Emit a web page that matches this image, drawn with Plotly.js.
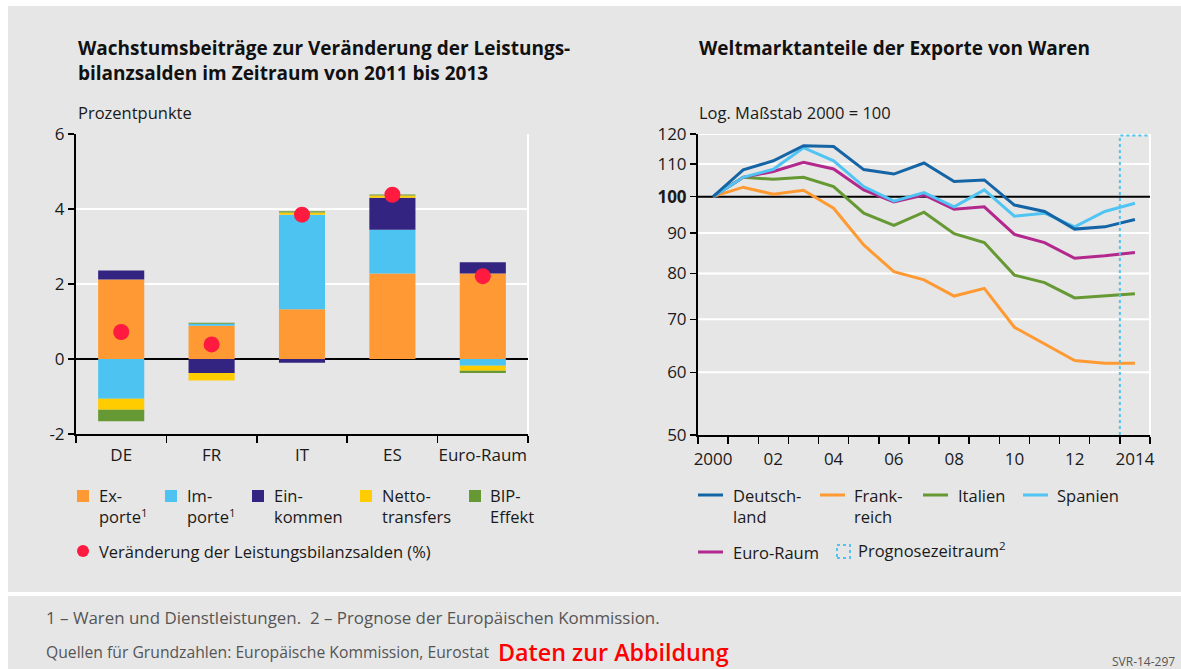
<!DOCTYPE html>
<html>
<head>
<meta charset="utf-8">
<script src="https://cdn.plot.ly/plotly-3.0.1.min.js"></script>
<style>
html,body{margin:0;padding:0;background:#fff;}
#chart{width:1181px;height:669px;}
</style>
</head>
<body>
<div id="chart"></div>
<script>
// ---- Left chart data (Prozentpunkte) ----
const categories = ['DE', 'FR', 'IT', 'ES', 'Euro-Raum'];
const exporte   = [2.12, 0.885, 1.33, 2.28, 2.28];
const importe   = [-1.06, 0.055, 2.52, 1.17, -0.18];
const einkommen = [0.24, -0.37, -0.10, 0.85, 0.30];
const netto     = [-0.29, -0.20, 0.06, 0.06, -0.13];
const bipEffekt = [-0.31, 0.027, 0.03, 0.03, -0.06];
const saldo     = [0.72, 0.39, 3.85, 4.38, 2.21];
const leftTicks = [-2, 0, 2, 4, 6];
const leftTickText = ['-2', '0', '2', '4', '6'];

// ---- Right chart data (Log. Maßstab 2000 = 100) ----
const years = [2000, 2001, 2002, 2003, 2004, 2005, 2006, 2007, 2008, 2009, 2010, 2011, 2012, 2013, 2014];
const deutschland = [100, 108.1, 111.0, 116.0, 115.7, 108.2, 106.8, 110.3, 104.5, 105.0, 97.6, 95.8, 91.0, 91.6, 93.6];
const frankreich  = [100, 102.8, 100.7, 101.9, 96.7, 86.9, 80.4, 78.5, 74.9, 76.6, 68.4, 65.1, 62.1, 61.6, 61.6];
const italien     = [100, 105.8, 105.2, 105.8, 103.0, 95.3, 92.0, 95.6, 89.8, 87.5, 79.6, 77.9, 74.5, 75.0, 75.4];
const spanien     = [100, 105.8, 108.3, 115.3, 111.0, 103.0, 98.7, 101.2, 97.1, 102.0, 94.5, 95.3, 91.6, 95.8, 98.1];
const euroRaum    = [100, 105.8, 107.6, 110.5, 108.4, 102.0, 98.5, 100.5, 96.4, 97.1, 89.6, 87.5, 83.6, 84.2, 85.0];
const rightTicks = [50, 60, 70, 80, 90, 100, 110, 120];
const rightTickText = ['50', '60', '70', '80', '90', '<b>100</b>', '110', '120'];
const baseValue = 100;
const yearLabelVals = [2000, 2002, 2004, 2006, 2008, 2010, 2012, 2014];
const yearLabels = ['2000', '02', '04', '06', '08', '10', '12', '2014'];
const prognoseStart = 2013.5;

// ---- colours ----
const C = {
  exp: '#ff9933', imp: '#4cc3f0', ein: '#332482', net: '#ffcc00', bip: '#669933', dot: '#ff1a40',
  de: '#1565a6', fr: '#ff9a33', it: '#669933', es: '#50c4f2', eu: '#b3288d',
  bg: '#e6e6e6'
};

const W = 1181, H = 669;
const px = x => x / W;
const py = y => 1 - y / H;
const FONT = 'Open Sans, Liberation Sans, Arial, sans-serif';
const tickFont = {family: FONT, size: 17, color: '#1a1a1a'};

function bar(name, vals, color) {
  return {type: 'bar', name: name, x: categories, y: vals, width: 0.51,
    marker: {color: color, line: {width: 0}}, xaxis: 'x', yaxis: 'y', showlegend: false};
}
function line(name, vals, color) {
  return {type: 'scatter', mode: 'lines', name: name, x: years, y: vals,
    line: {color: color, width: 3}, xaxis: 'x2', yaxis: 'y2', showlegend: false};
}

const data = [
  bar('Exporte', exporte, C.exp),
  bar('Importe', importe, C.imp),
  bar('Einkommen', einkommen, C.ein),
  bar('Nettotransfers', netto, C.net),
  bar('BIP-Effekt', bipEffekt, C.bip),
  {type: 'scatter', mode: 'markers', name: 'Veränderung der Leistungsbilanzsalden (%)', x: categories, y: saldo,
    marker: {color: C.dot, size: 16}, xaxis: 'x', yaxis: 'y', showlegend: false},
  line('Frankreich', frankreich, C.fr),
  line('Italien', italien, C.it),
  line('Euro-Raum', euroRaum, C.eu),
  line('Spanien', spanien, C.es),
  line('Deutschland', deutschland, C.de)
];

const minorYearTicks = years.map(y => y - 0.5).concat([years[years.length - 1] + 0.5]);

const shapes = [
  // backgrounds
  {type: 'rect', xref: 'paper', yref: 'paper', x0: px(8), x1: 1, y0: py(592), y1: py(6), fillcolor: C.bg, line: {width: 0}, layer: 'below'},
  {type: 'rect', xref: 'paper', yref: 'paper', x0: px(8), x1: 1, y0: 0, y1: py(596), fillcolor: C.bg, line: {width: 0}, layer: 'below'},
  // right white borders of plots
  {type: 'line', xref: 'x domain', yref: 'y domain', x0: 1, x1: 1, y0: 0, y1: 1, line: {color: '#ffffff', width: 2}, layer: 'below'},
  {type: 'line', xref: 'x2 domain', yref: 'y2 domain', x0: 1, x1: 1, y0: 0, y1: 1, line: {color: '#ffffff', width: 2}, layer: 'below'}
];
// right chart gridlines (white), with the base line (100) in black
rightTicks.forEach(t => {
  if (t === rightTicks[0]) return;
  shapes.push({type: 'line', xref: 'x2 domain', yref: 'y2', x0: 0, x1: 1, y0: t, y1: t,
    line: {color: t === baseValue ? '#000000' : '#ffffff', width: 2}, layer: 'below'});
});
// Prognose period
shapes.push({type: 'path', xref: 'x2', yref: 'y2 domain',
  path: 'M ' + prognoseStart + ' 0 L ' + prognoseStart + ' 0.995 L 2014.45 0.995',
  line: {color: C.es, width: 2, dash: 'dot'}});

const annotations = [];
function txt(text, x, y, opts) {
  annotations.push(Object.assign({text: text, xref: 'paper', yref: 'paper', x: px(x), y: py(y),
    xanchor: 'left', yanchor: 'middle', align: 'left', showarrow: false,
    font: {family: FONT, size: 16.5, color: '#1a1a1a'}}, opts || {}));
}
// titles
txt('<b>Wachstumsbeiträge zur Veränderung der Leistungs-<br>bilanzsalden im Zeitraum von 2011 bis 2013</b>', 76, 60, {font: {family: FONT, size: 19, color: '#111'}});
txt('<b>Weltmarktanteile der Exporte von Waren</b>', 697, 48, {font: {family: FONT, size: 19, color: '#111'}});
txt('Prozentpunkte', 76, 113);
txt('Log. Maßstab 2000 = 100', 697, 113);

// left legend
const leftLegend = [
  ['Ex-<br>porte<sup>1</sup>', C.exp, 77, 97],
  ['Im-<br>porte<sup>1</sup>', C.imp, 165, 185],
  ['Ein-<br>kommen', C.ein, 252, 272],
  ['Netto-<br>transfers', C.net, 360, 380],
  ['BIP-<br>Effekt', C.bip, 469, 488]
];
leftLegend.forEach(l => {
  shapes.push({type: 'rect', xref: 'paper', yref: 'paper', x0: px(l[2]), x1: px(l[2] + 12), y0: py(502), y1: py(490), fillcolor: l[1], line: {width: 0}});
  txt(l[0], l[3], 506);
});
shapes.push({type: 'circle', xref: 'paper', yref: 'paper', x0: px(77), x1: px(89), y0: py(557), y1: py(545), fillcolor: C.dot, line: {width: 0}});
txt('Veränderung der Leistungsbilanzsalden (%)', 97, 551);

// right legend
const rightLegend = [
  ['Deutsch-<br>land', C.de, 698, 731, 506, 495],
  ['Frank-<br>reich', C.fr, 820, 852, 506, 495],
  ['Italien', C.it, 923, 956, 495, 495],
  ['Spanien', C.es, 1023, 1055, 495, 495],
  ['Euro-Raum', C.eu, 698, 731, 552, 552]
];
rightLegend.forEach(l => {
  shapes.push({type: 'line', xref: 'paper', yref: 'paper', x0: px(l[2]), x1: px(l[2] + 25), y0: py(l[5]), y1: py(l[5]), line: {color: l[1], width: 3}});
  txt(l[0], l[3], l[4]);
});
shapes.push({type: 'rect', xref: 'paper', yref: 'paper', x0: px(837), x1: px(850), y0: py(558), y1: py(545), line: {color: C.es, width: 2, dash: 'dot'}});
txt('Prognosezeitraum<sup>2</sup>', 856, 550);

// footer
txt('1 – Waren und Dienstleistungen.  2 – Prognose der Europäischen Kommission.', 44, 617, {font: {family: FONT, size: 16.9, color: '#555'}});
txt('Quellen für Grundzahlen: Europäische Kommission, Eurostat', 44, 652, {font: {family: FONT, size: 15.7, color: '#555'}});
txt('Daten zur Abbildung', 496, 652, {font: {family: FONT, size: 23.3, color: '#ff0000', weight: 600}});
txt('SVR-14-297', 1177, 661, {xanchor: 'right', font: {family: FONT, size: 12, color: '#555'}});

const layout = {
  width: W, height: H,
  margin: {l: 0, r: 0, t: 0, b: 0},
  paper_bgcolor: '#ffffff',
  plot_bgcolor: C.bg,
  showlegend: false,
  barmode: 'relative',
  font: {family: FONT, size: 16, color: '#1a1a1a'},
  xaxis: {
    domain: [px(76), px(528)], anchor: 'y', type: 'category',
    tickson: 'boundaries', ticks: 'outside', ticklen: 7, tickwidth: 1.5, tickcolor: '#000',
    showline: true, linecolor: '#000', linewidth: 2, showgrid: false, tickangle: 0,
    tickfont: tickFont, ticklabelstandoff: 5, fixedrange: true
  },
  yaxis: {
    domain: [py(434), py(134)], anchor: 'x', range: [-2, 6],
    tickmode: 'array', tickvals: leftTicks, ticktext: leftTickText, ticks: 'outside', ticklen: 6, tickwidth: 1.5, tickcolor: '#000',
    showline: true, linecolor: '#000', linewidth: 2,
    showgrid: true, gridcolor: '#ffffff', gridwidth: 2,
    zeroline: true, zerolinecolor: '#000', zerolinewidth: 2,
    tickfont: tickFont, fixedrange: true
  },
  xaxis2: {
    domain: [px(698), px(1150)], anchor: 'y2', range: [1999.5, 2014.5],
    tickmode: 'array', tickvals: yearLabelVals, ticktext: yearLabels, ticks: '', tickangle: 0,
    minor: {tickmode: 'array', tickvals: minorYearTicks, ticks: 'outside', ticklen: 7, tickwidth: 1.5, tickcolor: '#000', showgrid: false},
    showline: true, linecolor: '#000', linewidth: 2, showgrid: false, zeroline: false,
    tickfont: tickFont, ticklabelstandoff: 8, fixedrange: true
  },
  yaxis2: {
    domain: [py(435), py(134)], anchor: 'x2', type: 'log', range: [Math.log10(50), Math.log10(120)],
    tickmode: 'array', tickvals: rightTicks, ticktext: rightTickText,
    ticks: 'outside', ticklen: 6, tickwidth: 1.5, tickcolor: '#000',
    showline: true, linecolor: '#000', linewidth: 2,
    showgrid: false, zeroline: false,
    tickfont: tickFont, fixedrange: true
  },
  shapes: shapes,
  annotations: annotations
};

Plotly.newPlot('chart', data, layout, {displayModeBar: false, staticPlot: true});
</script>
</body>
</html>
